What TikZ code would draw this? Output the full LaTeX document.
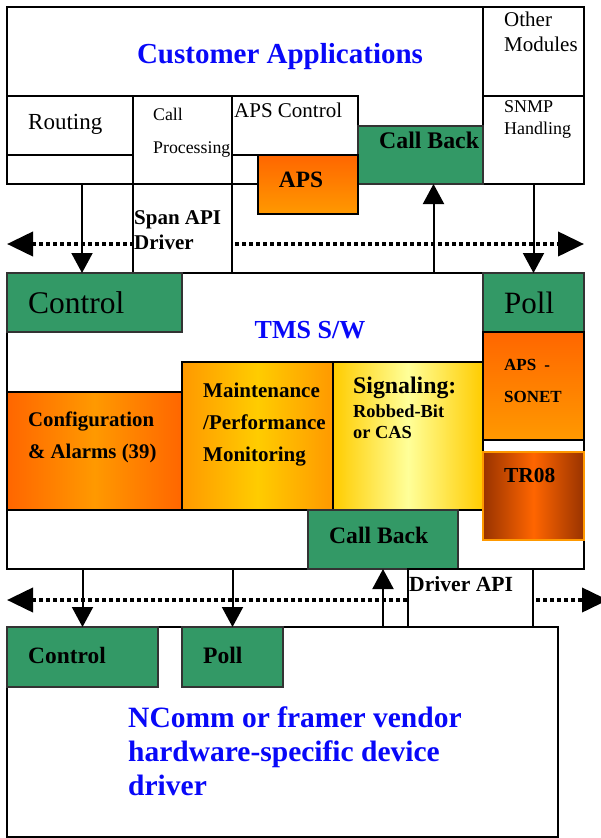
\documentclass[tikz,border=0pt]{standalone}
\usepackage{fontspec}
\setmainfont{Liberation Serif}
\usetikzlibrary{arrows.meta}

\definecolor{tmsgreen}{HTML}{339966}
\definecolor{tmsblue}{HTML}{0808F8}
\definecolor{deeporange}{HTML}{FF6600}
\definecolor{lightorange}{HTML}{FF9900}
\definecolor{goldyellow}{HTML}{FFCC00}
\definecolor{paleyellow}{HTML}{FFFF99}
\definecolor{rustbrown}{HTML}{993300}

\newcommand{\tsz}[2]{\fontsize{#1}{#2}\selectfont}

\tikzset{
  blk/.style={draw, line width=1.5pt, inner sep=0pt, outer sep=0pt, anchor=north west},
  sz/.style 2 args={minimum width=#1pt, minimum height=#2pt},
  grn/.style={blk, fill=tmsgreen, draw=black!80},
  lbl/.style={inner sep=0pt, anchor=west, align=left},
  arr/.style={line width=2pt, -{Triangle[length=20pt,width=21pt]}},
  bus/.style={line width=4pt, dash pattern=on 4pt off 3pt,
    {Triangle[length=26pt,width=24pt]}-{Triangle[length=26pt,width=24pt]}},
}

\begin{document}
\begin{tikzpicture}[x=1pt,y=-1pt]
  \useasboundingbox (0,0) rectangle (600,838);

  % customer applications
  \node[blk, sz={577}{177}] (apps) at (7,7) {};
  \node[blk, sz={101}{89}] (other) at (483,7) {};
  \node[blk, sz={101}{88}] (snmp) at (483,96) {};
  \node[blk, sz={126}{59}] (routing) at (7,96) {};
  \node[blk, sz={126}{29}] (routlow) at (7,155) {};
  \node[blk, sz={99}{88}] (callproc) at (133,96) {};
  \node[blk, sz={126}{59}] (apsctl) at (232,96) {};
  \node[grn, sz={125}{58}] (cbtop) at (358,126) {};
  \node[blk, sz={100}{59}, top color=deeporange, bottom color=lightorange] (aps) at (258,155) {};

  \node[font=\tsz{29}{34}\bfseries, text=tmsblue, inner sep=0pt] (appstxt) at (280,57) {Customer Applications};
  \node[lbl, font=\tsz{21}{25}] (othertxt) at (504,32) {Other\\Modules};
  \node[lbl, font=\tsz{23}{27}] (routtxt) at (28,124) {Routing};
  \node[lbl, font=\tsz{17.8}{33}] (cptxt) at (153,133) {Call\\Processing};
  \node[lbl, font=\tsz{21}{25}] (apsctltxt) at (234,110) {APS Control};
  \node[lbl, font=\tsz{23.8}{28}\bfseries] (cbtoptxt) at (379,140) {Call Back};
  \node[lbl, font=\tsz{18}{22}] (snmptxt) at (504,119) {SNMP\\Handling};
  \node[font=\tsz{23.4}{28}\bfseries, inner sep=0pt] (apstxt) at (301,180) {APS};

  % span api driver
  \coordinate (busla) at (7,244);
  \coordinate (busra) at (584,244);
  \draw[bus] (busla) -- (busra);
  \node[blk, fill=white, sz={99}{89}] (span) at (133,184) {};
  \node[lbl, font=\tsz{21}{25}\bfseries] (spantxt) at (134,230) {Span API\\Driver};

  % tms s/w
  \node[blk, sz={577}{296}] (tms) at (7,273) {};
  \node[grn, sz={175}{59}] (ctrl) at (7,273) {};
  \node[grn, sz={101}{59}] (poll) at (483,273) {};
  \node[blk, sz={175}{118}, left color=deeporange, right color=deeporange, middle color=lightorange] (config) at (7,392) {};
  \node[blk, sz={151}{148}, left color=lightorange, right color=lightorange, middle color=goldyellow] (maint) at (182,362) {};
  \node[blk, sz={150}{148}, left color=goldyellow, right color=goldyellow, middle color=paleyellow] (signal) at (333,362) {};
  \node[blk, sz={101}{108}, top color=deeporange, bottom color=lightorange] (sonet) at (483,332) {};
  \node[blk, sz={101}{88}, draw=lightorange, left color=rustbrown, right color=rustbrown, middle color=deeporange] (tr08) at (483,452) {};
  \node[grn, sz={150}{59}] (cbmid) at (308,510) {};

  \node[lbl, font=\tsz{31.5}{36}] (ctrltxt) at (28,303) {Control};
  \node[lbl, font=\tsz{31}{36}] (polltxt) at (504,303) {Poll};
  \node[font=\tsz{26}{30}\bfseries, text=tmsblue, inner sep=0pt] (tmstxt) at (310,330) {TMS S/W};
  \node[lbl, font=\tsz{20.8}{32}\bfseries] (configtxt) at (28,437) {Configuration\\\&~Alarms (39)};
  \node[lbl, font=\tsz{21}{32}\bfseries] (mainttxt) at (203,425) {Maintenance\\/Performance\\Monitoring};
  \node[lbl, font=\tsz{23.8}{28}\bfseries] (sigtxt) at (353,388) {Signaling:};
  \node[lbl, font=\tsz{18.4}{21}\bfseries] (robtxt) at (353,422) {Robbed-Bit\\or CAS};
  \node[lbl, font=\tsz{17}{32}\bfseries] (sonettxt) at (504,381) {APS\hspace{8pt}-\\SONET};
  \node[lbl, font=\tsz{21.4}{26}\bfseries] (tr08txt) at (504,475) {TR08};
  \node[lbl, font=\tsz{23.6}{28}\bfseries] (cbmidtxt) at (329,535) {Call Back};

  % driver api
  \coordinate (buslb) at (7,600);
  \coordinate (busrb) at (608,600);
  \draw[bus] (buslb) -- (busrb);
  \node[blk, fill=white, sz={125}{58}] (drvapi) at (408,569) {};
  \node[lbl, font=\tsz{21.6}{26}\bfseries] (drvtxt) at (409,584) {Driver API};

  % vendor driver
  \node[blk, sz={551}{210}] (hw) at (7,627) {};
  \node[grn, sz={151}{60}] (hwctrl) at (7,627) {};
  \node[grn, sz={101}{60}] (hwpoll) at (182,627) {};
  \node[lbl, font=\tsz{23.4}{28}\bfseries] (hwctrltxt) at (28,655) {Control};
  \node[lbl, font=\tsz{23.6}{28}\bfseries] (hwpolltxt) at (203,655) {Poll};
  \node[lbl, font=\tsz{29.5}{34}\bfseries, text=tmsblue] (hwtxt) at (128,751) {NComm or framer vendor\\hardware-specific device\\driver};

  % calls between layers
  \draw[arr] ([xshift=12pt]routlow.south) -- ([xshift=12pt]routlow.south |- ctrl.north);
  \draw[arr] ([xshift=13pt]cbtop.south |- tms.north) -- ([xshift=13pt]cbtop.south);
  \draw[arr] (snmp.south) -- (poll.north);
  \draw[arr] (hwctrl.north |- tms.south) -- (hwctrl.north);
  \draw[arr] (hwpoll.north |- tms.south) -- (hwpoll.north);
  \draw[arr] (cbmid.south |- hw.north) -- (cbmid.south);

\end{tikzpicture}
\end{document}
